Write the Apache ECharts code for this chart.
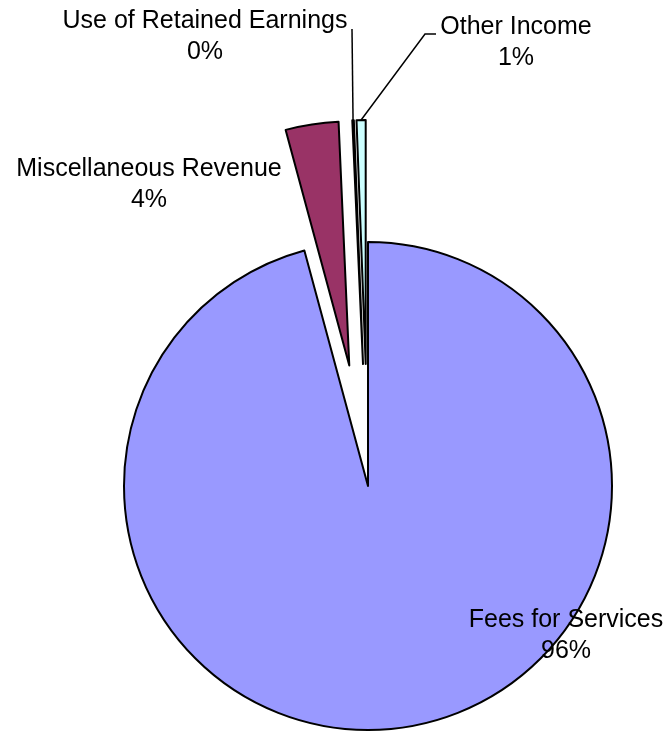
<!DOCTYPE html>
<html>
<head>
<meta charset="utf-8">
<script src="https://cdn.jsdelivr.net/npm/echarts@6/dist/echarts.min.js"></script>
<style>
  html, body { margin: 0; padding: 0; background: #ffffff; }
  #chart { width: 671px; height: 734px; }
</style>
</head>
<body>
<div id="chart"></div>
<script>
// ---- data ----
const categories = ['Fees for Services', 'Miscellaneous Revenue', 'Use of Retained Earnings', 'Other Income'];
const values = [95.8, 3.5, 0.1, 0.6];
const exploded = [false, true, true, true];
const colors = ['#9999FF', '#993366', '#FFFFCC', '#CCFFFF'];

// ---- layout constants ----
const CENTER = [368, 486];
const RADIUS = 244;
const OFFSET = 122;
const labelPos = [
  { x: 566, y: 636, line: null },
  { x: 149, y: 185, line: null },
  { x: 205, y: 37, line: [[352, 29], [352, 29]] },
  { x: 516, y: 43, line: [[425, 34], [436, 34]] }
];

const chart = echarts.init(document.getElementById('chart'), null, { renderer: 'canvas' });

const sliceData = categories.map((name, i) => ({
  name: name,
  value: values[i],
  selected: exploded[i],
  itemStyle: { color: colors[i] }
}));

const labelData = categories.map((name, i) => ({
  name: name,
  value: values[i],
  labelLine: { show: !!labelPos[i].line }
}));

chart.setOption({
  animation: false,
  backgroundColor: '#ffffff',
  series: [{
    type: 'pie',
    center: CENTER,
    radius: [0, RADIUS],
    startAngle: 90,
    clockwise: true,
    selectedMode: 'multiple',
    selectedOffset: OFFSET,
    avoidLabelOverlap: false,
    itemStyle: { borderColor: '#000000', borderWidth: 2 },
    emphasis: { disabled: true },
    label: { show: false },
    labelLine: { show: false },
    data: sliceData
  }, {
    type: 'pie',
    silent: true,
    center: CENTER,
    radius: [0, RADIUS],
    startAngle: 90,
    clockwise: true,
    avoidLabelOverlap: false,
    itemStyle: { color: 'rgba(0,0,0,0)', borderWidth: 0 },
    emphasis: { disabled: true },
    label: {
      show: true,
      position: 'outside',
      color: '#000000',
      fontFamily: 'Liberation Sans, Arial, sans-serif',
      fontSize: 25,
      lineHeight: 31,
      align: 'center',
      formatter: function (p) { return p.name + '\n' + Math.round(p.percent) + '%'; }
    },
    labelLine: {
      show: true,
      length: 10,
      length2: 10,
      lineStyle: { color: '#000000', width: 1.5 }
    },
    labelLayout: function (params) {
      const i = params.dataIndex;
      const lp = labelPos[i];
      const out = { x: lp.x, y: lp.y, align: 'center', verticalAlign: 'middle' };
      if (lp.line && params.labelLinePoints) {
        const p = params.labelLinePoints[0];
        const dx = p[0] - CENTER[0], dy = p[1] - CENTER[1];
        const len = Math.sqrt(dx * dx + dy * dy) || 1;
        const shift = exploded[i] ? OFFSET : 0;
        const p0 = [p[0] + dx / len * shift, p[1] + dy / len * shift];
        out.labelLinePoints = [p0, lp.line[0], lp.line[1]];
      }
      return out;
    },
    data: labelData
  }]
});
</script>
</body>
</html>
